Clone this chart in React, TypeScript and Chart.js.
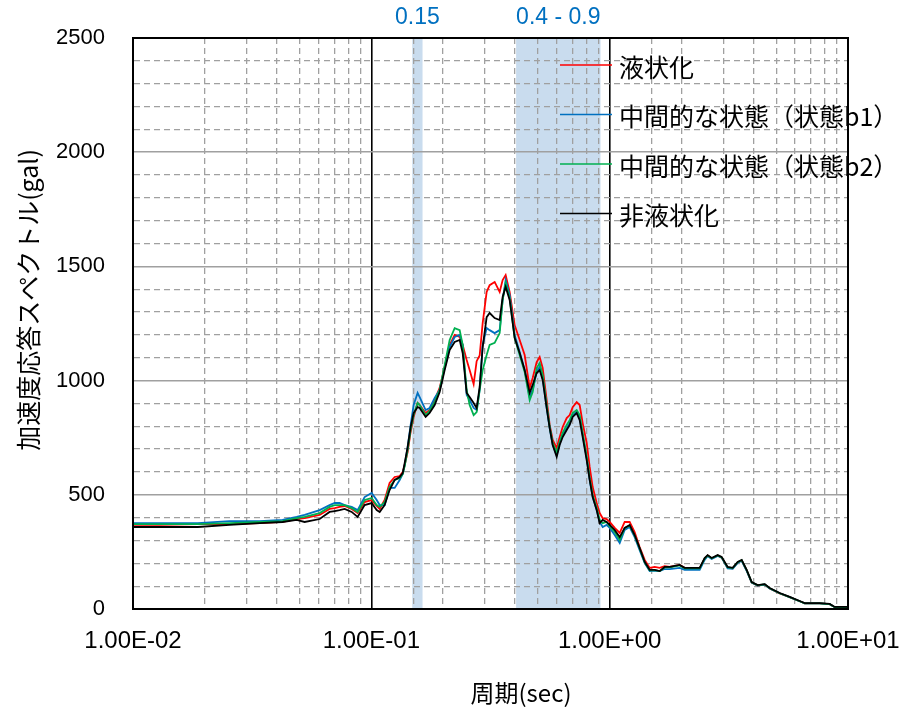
import React, { useEffect, useRef } from 'react';
import { Chart, registerables } from 'chart.js';

Chart.register(...registerables);

// Period (sec)
const periods = [
  0.01, 0.0129, 0.0187, 0.0254, 0.034, 0.0424, 0.0486, 0.0525, 0.0607, 0.0668,
  0.0702, 0.0736, 0.0773, 0.0827, 0.0876, 0.0937, 0.1003, 0.1053, 0.1084, 0.1137,
  0.1193, 0.1253, 0.1315, 0.1354, 0.138, 0.142, 0.1462, 0.1505, 0.1564, 0.1595,
  0.169, 0.1756, 0.1844, 0.1935, 0.2031, 0.2131, 0.2237, 0.2348, 0.2417, 0.2512,
  0.2585, 0.2687, 0.2766, 0.2848, 0.2932, 0.3047, 0.3136, 0.3292, 0.3455, 0.3556,
  0.3661, 0.3805, 0.3993, 0.4192, 0.4399, 0.4617, 0.4753, 0.494, 0.5085, 0.5235,
  0.5442, 0.5602, 0.5767, 0.5994, 0.617, 0.6351, 0.6602, 0.6796, 0.6995, 0.7271,
  0.7485, 0.7705, 0.8009, 0.8244, 0.8486, 0.8821, 0.908, 0.9346, 0.9714, 1.0,
  1.05, 1.102, 1.156, 1.213, 1.273, 1.336, 1.403, 1.472, 1.545, 1.621,
  1.701, 1.786, 1.967, 2.064, 2.166, 2.386, 2.503, 2.577, 2.679, 2.839,
  2.951, 3.127, 3.282, 3.444, 3.58, 3.757, 3.944, 4.179, 4.472, 4.693,
  5.169, 5.692, 6.271, 6.581, 7.607, 8.381, 8.795, 10.0,
];

// 液状化
const liquefied = [
  368, 368, 372, 372, 376, 381, 394, 398, 412, 438,
  442, 447, 451, 438, 420, 468, 477, 451, 438, 477,
  552, 578, 582, 600, 630, 687, 775, 841, 902, 893,
  858, 871, 915, 968, 1060, 1156, 1200, 1191, 1156, 1090,
  1046, 985, 1085, 1110, 1252, 1388, 1418, 1432, 1388, 1440,
  1462, 1388, 1243, 1178, 1112, 968, 1011, 1081, 1103, 1055,
  915, 806, 740, 705, 753, 797, 836, 849, 884, 906,
  893, 814, 727, 622, 534, 464, 420, 398, 394, 381,
  355, 333, 381, 381, 337, 271, 215, 180, 184, 180,
  188, 184, 193, 180, 178, 178, 220, 234, 221, 234,
  225, 180, 178, 204, 213, 169, 116, 103, 107, 90,
  68, 52, 34, 25, 25, 21, 8, 8,
];

// 中間的な状態（状態b1）
const stateB1 = [
  376, 376, 376, 385, 385, 390, 403, 412, 433, 455,
  464, 464, 455, 447, 433, 490, 508, 477, 455, 455,
  530, 530, 565, 591, 630, 709, 806, 893, 946, 928,
  871, 880, 924, 959, 1055, 1147, 1191, 1200, 1156, 937,
  915, 880, 871, 959, 1156, 1230, 1221, 1208, 1221, 1353,
  1440, 1375, 1200, 1125, 1046, 928, 959, 1038, 1060, 1011,
  880, 792, 718, 674, 727, 762, 792, 814, 849, 862,
  841, 762, 661, 565, 490, 433, 381, 359, 368, 355,
  324, 289, 346, 359, 315, 258, 201, 166, 168, 166,
  175, 175, 180, 171, 171, 171, 215, 232, 219, 232,
  225, 178, 176, 202, 211, 167, 116, 103, 107, 90,
  69, 52, 34, 25, 25, 21, 8, 8,
];

// 中間的な状態（状態b2）
const stateB2 = [
  372, 372, 372, 376, 381, 385, 398, 403, 420, 447,
  455, 455, 455, 442, 425, 477, 486, 455, 447, 468,
  534, 565, 573, 591, 626, 696, 784, 849, 902, 893,
  849, 867, 906, 959, 1068, 1178, 1230, 1221, 1156, 959,
  893, 849, 862, 959, 1046, 1112, 1156, 1165, 1208, 1353,
  1427, 1362, 1187, 1112, 1038, 915, 950, 1055, 1077, 1024,
  893, 797, 727, 687, 731, 771, 806, 827, 858, 871,
  849, 771, 666, 574, 499, 442, 390, 376, 381, 363,
  337, 302, 355, 365, 322, 265, 204, 169, 170, 166,
  182, 182, 191, 178, 178, 178, 221, 234, 222, 234,
  226, 182, 179, 205, 214, 170, 117, 104, 108, 91,
  69, 52, 34, 25, 25, 21, 8, 8,
];

// 非液状化
const nonLiquefied = [
  359, 359, 359, 368, 376, 381, 390, 381, 394, 425,
  429, 433, 438, 425, 403, 455, 464, 433, 425, 455,
  521, 565, 578, 595, 639, 709, 797, 858, 884, 880,
  841, 858, 893, 950, 1046, 1134, 1169, 1178, 1121, 946,
  928, 902, 880, 972, 1147, 1278, 1296, 1274, 1265, 1366,
  1410, 1353, 1187, 1121, 1046, 946, 981, 1033, 1046, 1003,
  880, 792, 718, 666, 718, 753, 784, 806, 841, 858,
  827, 753, 652, 565, 490, 433, 376, 390, 381, 368,
  346, 315, 355, 368, 324, 267, 206, 171, 171, 166,
  184, 184, 193, 180, 180, 180, 223, 236, 223, 236,
  228, 184, 180, 206, 215, 171, 118, 105, 109, 92,
  70, 53, 35, 26, 26, 22, 9, 9,
];

const seriesLabels = ['液状化', '中間的な状態（状態b1）', '中間的な状態（状態b2）', '非液状化'];
const seriesValues = [liquefied, stateB1, stateB2, nonLiquefied];
const seriesColors = ['#ff0000', '#0070c0', '#00b050', '#000000'];

const bandRanges = [
  [0.1485, 0.164],
  [0.405, 0.915],
];
const bandLabels = ['0.15', '0.4 - 0.9'];

const yMin = 0;
const yMax = 2500;
const yMinorStep = 100;
const yMajorStep = 500;
const xMin = 0.01;
const xMax = 10;

const xTitle = '周期(sec)';
const yTitle = '加速度応答スペクトル(gal)';

const CJK = "'Noto Sans CJK JP', 'Noto Sans', sans-serif";
const LATIN = "'Liberation Sans', Arial, sans-serif";

const isDecade = (v: number) => {
  const e = Math.log10(v);
  return Math.abs(e - Math.round(e)) < 1e-6;
};

const fmtExp = (v: number) => {
  const e = Math.round(Math.log10(v));
  const sign = e < 0 ? '-' : '+';
  const abs = Math.abs(e);
  return '1.00E' + sign + (abs < 10 ? '0' + abs : String(abs));
};

const decorPlugin = {
  id: 'decor',
  beforeDraw(chart: any) {
    const { ctx, chartArea: a, scales } = chart;
    const x = scales.x;
    ctx.save();
    ctx.fillStyle = '#ffffff';
    ctx.fillRect(0, 0, chart.width, chart.height);
    ctx.fillStyle = '#c9dcee';
    bandRanges.forEach(([lo, hi]) => {
      const x0 = x.getPixelForValue(lo);
      const x1 = x.getPixelForValue(hi);
      ctx.fillRect(x0, a.top - 1, x1 - x0, a.bottom - a.top + 1);
    });
    ctx.restore();
  },
  afterDraw(chart: any) {
    const { ctx, chartArea: a, scales } = chart;
    const x = scales.x;
    ctx.save();
    // plot border
    ctx.strokeStyle = '#000';
    ctx.lineWidth = 2;
    ctx.strokeRect(a.left, a.top, a.right - a.left, a.bottom - a.top);

    // band labels
    ctx.fillStyle = '#0070c0';
    ctx.font = `23px ${LATIN}`;
    ctx.textAlign = 'center';
    ctx.textBaseline = 'middle';
    bandRanges.forEach(([lo, hi], i) => {
      const cx = (x.getPixelForValue(lo) + x.getPixelForValue(hi)) / 2;
      ctx.fillText(bandLabels[i], cx, a.top - 20);
    });

    // legend
    const legendLineX0 = a.left + 427;
    const legendLineX1 = a.left + 479;
    const legendTextX = a.left + 486;
    const legendY0 = a.top + 27;
    const legendGap = 49.5;
    ctx.font = `25px ${CJK}`;
    ctx.textAlign = 'left';
    ctx.textBaseline = 'middle';
    seriesLabels.forEach((label, i) => {
      const ly = legendY0 + i * legendGap;
      ctx.strokeStyle = seriesColors[i];
      ctx.lineWidth = 1.5;
      ctx.beginPath();
      ctx.moveTo(legendLineX0, ly);
      ctx.lineTo(legendLineX1, ly);
      ctx.stroke();
      ctx.fillStyle = '#000';
      ctx.fillText(label, legendTextX, ly + 2);
    });

    // axis titles
    ctx.fillStyle = '#000';
    ctx.font = `24px ${CJK}`;
    ctx.textAlign = 'center';
    ctx.textBaseline = 'middle';
    ctx.fillText(xTitle, a.left + 388, chart.height - 22);
    ctx.font = `25px ${CJK}`;
    ctx.translate(28, a.top + 262);
    ctx.rotate(-Math.PI / 2);
    ctx.fillText(yTitle, 0, 0);
    ctx.restore();
  },
};

export default function App() {
  const canvasRef = useRef<HTMLCanvasElement | null>(null);

  useEffect(() => {
    const canvas = canvasRef.current;
    if (!canvas) return;
    const order = [3, 2, 1, 0];
    const datasets = seriesLabels.map((label, i) => ({
      label,
      data: periods.map((p, j) => ({ x: p, y: seriesValues[i][j] })),
      borderColor: seriesColors[i],
      backgroundColor: seriesColors[i],
      borderWidth: 1.8,
      pointRadius: 0,
      tension: 0,
      fill: false,
      order: order[i],
    }));

    const chart = new Chart(canvas, {
      type: 'line',
      data: { datasets },
      plugins: [decorPlugin],
      options: {
        animation: false,
        responsive: false,
        devicePixelRatio: 1,
        layout: { padding: { top: 38, right: 51, left: 0, bottom: 0 } },
        plugins: {
          legend: { display: false },
          tooltip: { enabled: false },
        },
        scales: {
          x: {
            type: 'logarithmic',
            min: xMin,
            max: xMax,
            afterFit: (s: any) => {
              s.height = 106;
              s.paddingLeft = 0;
              s.paddingRight = 0;
            },
            ticks: {
              autoSkip: false,
              maxRotation: 0,
              padding: 18,
              color: '#000',
              font: { size: 24, family: LATIN },
              callback: (v: any) => (isDecade(Number(v)) ? fmtExp(Number(v)) : ''),
            },
            grid: {
              drawTicks: false,
              color: (c: any) => (c.tick && isDecade(c.tick.value) ? '#000000' : '#a0a0a0'),
              lineWidth: (c: any) => (c.tick && isDecade(c.tick.value) ? 1.6 : 1.3),
            },
            border: {
              display: true,
              color: '#000',
              width: 2,
              dash: (c: any) => (c.tick && isDecade(c.tick.value) ? [] : [6, 4]),
            },
          },
          y: {
            type: 'linear',
            min: yMin,
            max: yMax,
            afterFit: (s: any) => {
              s.width = 133;
              s.paddingTop = 0;
              s.paddingBottom = 0;
            },
            ticks: {
              stepSize: yMinorStep,
              autoSkip: false,
              padding: 28,
              color: '#000',
              font: { size: 22, family: LATIN },
              callback: (v: any) => (Number(v) % yMajorStep === 0 ? String(v) : ''),
            },
            grid: {
              drawTicks: false,
              color: '#a0a0a0',
              lineWidth: (c: any) => (c.tick && c.tick.value % yMajorStep === 0 ? 1.5 : 1.3),
            },
            border: {
              display: true,
              color: '#000',
              width: 2,
              dash: (c: any) => (c.tick && c.tick.value % yMajorStep === 0 ? [] : [6, 4]),
            },
          },
        },
      } as any,
    });
    return () => chart.destroy();
  }, []);

  return (
    <div style={{ position: 'fixed', left: 0, top: 0, width: 899, height: 715, background: '#fff' }}>
      <canvas ref={canvasRef} width={899} height={715} style={{ display: 'block' }} />
    </div>
  );
}
